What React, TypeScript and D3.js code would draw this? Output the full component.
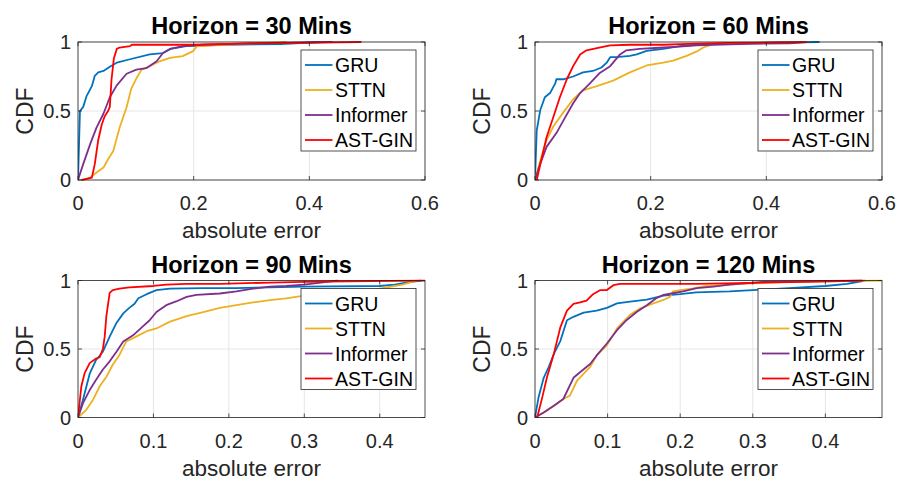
import React, { useEffect, useRef } from 'react';
import * as d3 from 'd3';

type Pt = [number, number];

const seriesNames = ['GRU', 'STTN', 'Informer', 'AST-GIN'];
const seriesColors = ['#0072BD', '#EDB120', '#7E2F8E', '#FF0000'];
const horizons = [30, 60, 90, 120];
const xMaxes = [0.6, 0.6, 0.46, 0.478];
const xTicksWide = [0, 0.2, 0.4, 0.6];
const xTicksNarrow = [0, 0.1, 0.2, 0.3, 0.4];
const yTicks = [0, 0.5, 1];

// Horizon = 30
const gru30: Pt[] = [[0, 0], [0.0034, 0.5], [0.009, 0.53], [0.015, 0.61], [0.024, 0.68], [0.029, 0.755], [0.035, 0.78], [0.044, 0.79], [0.055, 0.82], [0.067, 0.85], [0.09, 0.875], [0.124, 0.91], [0.147, 0.92], [0.16, 0.95], [0.187, 0.97], [0.25, 0.98], [0.35, 0.985], [0.42, 1]];
const sttn30: Pt[] = [[0.009, 0], [0.021, 0.017], [0.032, 0.054], [0.044, 0.09], [0.052, 0.15], [0.061, 0.21], [0.072, 0.38], [0.084, 0.527], [0.092, 0.66], [0.101, 0.737], [0.11, 0.8], [0.124, 0.824], [0.141, 0.86], [0.159, 0.885], [0.181, 0.898], [0.199, 0.934], [0.205, 0.968], [0.25, 0.98], [0.3, 0.99], [0.36, 1]];
const informer30: Pt[] = [[0, 0], [0.009, 0.115], [0.021, 0.26], [0.032, 0.38], [0.044, 0.48], [0.055, 0.6], [0.067, 0.686], [0.084, 0.77], [0.101, 0.8], [0.118, 0.81], [0.136, 0.86], [0.147, 0.92], [0.159, 0.95], [0.182, 0.97], [0.216, 0.98], [0.3, 0.99], [0.44, 1]];
const astgin30: Pt[] = [[0.006, 0], [0.024, 0.017], [0.029, 0.115], [0.035, 0.29], [0.041, 0.4], [0.046, 0.46], [0.052, 0.5], [0.055, 0.53], [0.058, 0.73], [0.062, 0.88], [0.067, 0.95], [0.072, 0.96], [0.09, 0.97], [0.093, 0.98], [0.2, 0.98], [0.3, 0.99], [0.49, 1]];

// Horizon = 60
const gru60: Pt[] = [[0, 0], [0.003, 0.36], [0.009, 0.505], [0.017, 0.6], [0.026, 0.63], [0.035, 0.7], [0.037, 0.73], [0.049, 0.73], [0.066, 0.75], [0.083, 0.78], [0.1, 0.79], [0.115, 0.815], [0.124, 0.85], [0.13, 0.89], [0.141, 0.89], [0.164, 0.9], [0.176, 0.91], [0.193, 0.935], [0.222, 0.95], [0.25, 0.97], [0.279, 0.98], [0.337, 0.99], [0.492, 1]];
const sttn60: Pt[] = [[0, 0], [0.009, 0.14], [0.02, 0.29], [0.032, 0.39], [0.049, 0.49], [0.066, 0.585], [0.083, 0.65], [0.107, 0.68], [0.135, 0.72], [0.164, 0.78], [0.193, 0.83], [0.222, 0.85], [0.239, 0.865], [0.262, 0.9], [0.279, 0.93], [0.291, 0.96], [0.308, 0.985], [0.337, 0.99], [0.4, 0.995], [0.46, 1]];
const informer60: Pt[] = [[0, 0], [0.009, 0.117], [0.02, 0.24], [0.037, 0.34], [0.049, 0.43], [0.066, 0.556], [0.078, 0.63], [0.095, 0.7], [0.112, 0.776], [0.13, 0.825], [0.147, 0.91], [0.158, 0.94], [0.181, 0.95], [0.222, 0.96], [0.25, 0.966], [0.279, 0.976], [0.337, 0.983], [0.394, 0.988], [0.44, 0.99], [0.47, 1]];
const astgin60: Pt[] = [[0.003, 0], [0.012, 0.166], [0.02, 0.31], [0.032, 0.46], [0.043, 0.6], [0.055, 0.73], [0.066, 0.825], [0.078, 0.91], [0.089, 0.94], [0.107, 0.956], [0.13, 0.976], [0.164, 0.98], [0.222, 0.98], [0.279, 0.988], [0.337, 0.993], [0.47, 1]];

// Horizon = 90
const gru90: Pt[] = [[0, 0], [0.0066, 0.13], [0.0155, 0.32], [0.024, 0.42], [0.033, 0.48], [0.042, 0.59], [0.051, 0.69], [0.06, 0.76], [0.068, 0.8], [0.075, 0.83], [0.08, 0.87], [0.091, 0.9], [0.104, 0.93], [0.122, 0.94], [0.166, 0.945], [0.21, 0.945], [0.254, 0.95], [0.3, 0.955], [0.4, 0.96], [0.42, 0.97], [0.435, 0.985], [0.455, 1]];
const sttn90: Pt[] = [[0, 0], [0.011, 0.056], [0.02, 0.13], [0.029, 0.23], [0.038, 0.3], [0.046, 0.385], [0.055, 0.457], [0.064, 0.555], [0.077, 0.59], [0.091, 0.63], [0.104, 0.65], [0.122, 0.7], [0.144, 0.74], [0.166, 0.77], [0.188, 0.8], [0.21, 0.82], [0.232, 0.84], [0.254, 0.856], [0.276, 0.87], [0.3, 0.89], [0.35, 0.91], [0.4, 0.94], [0.43, 0.97], [0.45, 1]];
const informer90: Pt[] = [[0, 0], [0.0066, 0.105], [0.0155, 0.2], [0.024, 0.275], [0.033, 0.35], [0.042, 0.41], [0.051, 0.48], [0.06, 0.555], [0.073, 0.6], [0.086, 0.665], [0.095, 0.71], [0.104, 0.77], [0.117, 0.82], [0.13, 0.847], [0.144, 0.88], [0.157, 0.895], [0.188, 0.905], [0.21, 0.92], [0.232, 0.94], [0.254, 0.955], [0.276, 0.96], [0.3, 0.97], [0.33, 0.99], [0.345, 1]];
const astgin90: Pt[] = [[0, 0], [0.0044, 0.226], [0.0088, 0.324], [0.0155, 0.397], [0.024, 0.43], [0.0287, 0.44], [0.033, 0.5], [0.0354, 0.59], [0.0376, 0.74], [0.042, 0.91], [0.046, 0.93], [0.055, 0.94], [0.068, 0.95], [0.1, 0.96], [0.117, 0.97], [0.144, 0.975], [0.188, 0.975], [0.254, 0.985], [0.3, 0.99], [0.387, 0.995], [0.46, 1]];

// Horizon = 120
const gru120: Pt[] = [[0, 0], [0.005, 0.15], [0.012, 0.29], [0.019, 0.37], [0.026, 0.465], [0.035, 0.56], [0.044, 0.71], [0.053, 0.735], [0.067, 0.765], [0.085, 0.78], [0.099, 0.8], [0.113, 0.833], [0.131, 0.846], [0.154, 0.86], [0.177, 0.89], [0.2, 0.9], [0.222, 0.914], [0.268, 0.92], [0.3, 0.93], [0.35, 0.945], [0.4, 0.96], [0.43, 0.975], [0.455, 1]];
const sttn120: Pt[] = [[0, 0], [0.012, 0.037], [0.026, 0.086], [0.039, 0.135], [0.048, 0.16], [0.058, 0.27], [0.076, 0.37], [0.085, 0.453], [0.099, 0.527], [0.113, 0.65], [0.131, 0.75], [0.145, 0.797], [0.163, 0.833], [0.177, 0.858], [0.186, 0.88], [0.19, 0.92], [0.2, 0.93], [0.216, 0.94], [0.236, 0.96], [0.268, 0.97], [0.3, 0.98], [0.35, 0.99], [0.42, 0.995], [0.48, 1]];
const informer120: Pt[] = [[0, 0], [0.012, 0.037], [0.026, 0.086], [0.039, 0.135], [0.053, 0.29], [0.062, 0.33], [0.076, 0.39], [0.085, 0.453], [0.099, 0.54], [0.113, 0.637], [0.126, 0.71], [0.14, 0.77], [0.154, 0.82], [0.167, 0.87], [0.177, 0.895], [0.19, 0.907], [0.204, 0.92], [0.223, 0.944], [0.246, 0.956], [0.268, 0.97], [0.314, 0.99], [0.45, 1]];
const astgin120: Pt[] = [[0.003, 0], [0.01, 0.147], [0.0165, 0.294], [0.026, 0.466], [0.035, 0.66], [0.044, 0.78], [0.053, 0.83], [0.062, 0.84], [0.071, 0.853], [0.08, 0.9], [0.09, 0.93], [0.099, 0.93], [0.108, 0.966], [0.117, 0.975], [0.131, 0.975], [0.223, 0.975], [0.314, 0.985], [0.406, 0.993], [0.452, 1]];

const panelSeries: Pt[][][] = [
  [gru30, sttn30, informer30, astgin30],
  [gru60, sttn60, informer60, astgin60],
  [gru90, sttn90, informer90, astgin90],
  [gru120, sttn120, informer120, astgin120],
];

const W = 899;
const H = 479;
const FONT = '"Liberation Sans", Arial, Helvetica, sans-serif';
const AXIS_COLOR = '#262626';

export default function App() {
  const svgRef = useRef<SVGSVGElement>(null);

  useEffect(() => {
    const svg = d3.select(svgRef.current);
    svg.selectAll('*').remove();

    // plot area boxes [left, top, right, bottom]
    const boxes = [
      [78, 42, 425, 180],
      [535, 42, 882, 180],
      [78, 280.5, 425, 417.5],
      [535, 280.5, 882, 417.5],
    ];

    boxes.forEach((b, i) => {
      const [x0, y0, x1, y1] = b;
      const x = d3.scaleLinear().domain([0, xMaxes[i]]).range([x0, x1]);
      const y = d3.scaleLinear().domain([0, 1]).range([y1, y0]);
      const xTicks = i < 2 ? xTicksWide : xTicksNarrow;
      const g = svg.append('g');

      g.append('rect')
        .attr('x', x0).attr('y', y0)
        .attr('width', x1 - x0).attr('height', y1 - y0)
        .attr('fill', '#fff');

      // grid
      xTicks.forEach(t => {
        g.append('line')
          .attr('x1', x(t)).attr('x2', x(t))
          .attr('y1', y0).attr('y2', y1)
          .attr('stroke', '#e6e6e6').attr('stroke-width', 1);
      });
      yTicks.forEach(t => {
        g.append('line')
          .attr('x1', x0).attr('x2', x1)
          .attr('y1', y(t)).attr('y2', y(t))
          .attr('stroke', '#e6e6e6').attr('stroke-width', 1);
      });

      // curves
      const line = d3.line<Pt>().x(d => x(d[0])).y(d => y(d[1]));
      const clipId = `clip${i}`;
      g.append('clipPath').attr('id', clipId)
        .append('rect')
        .attr('x', x0).attr('y', y0 - 1)
        .attr('width', x1 - x0).attr('height', y1 - y0 + 2);
      panelSeries[i].forEach((s, k) => {
        g.append('path')
          .attr('d', line(s))
          .attr('fill', 'none')
          .attr('stroke', seriesColors[k])
          .attr('stroke-width', 1.8)
          .attr('stroke-linejoin', 'round')
          .attr('clip-path', `url(#${clipId})`);
      });

      // box
      g.append('rect')
        .attr('x', x0).attr('y', y0)
        .attr('width', x1 - x0).attr('height', y1 - y0)
        .attr('fill', 'none')
        .attr('stroke', AXIS_COLOR).attr('stroke-width', 0.8);

      // ticks, inward on all sides
      const tl = 4;
      xTicks.forEach(t => {
        g.append('line').attr('x1', x(t)).attr('x2', x(t)).attr('y1', y1).attr('y2', y1 - tl)
          .attr('stroke', AXIS_COLOR).attr('stroke-width', 0.8);
        g.append('line').attr('x1', x(t)).attr('x2', x(t)).attr('y1', y0).attr('y2', y0 + tl)
          .attr('stroke', AXIS_COLOR).attr('stroke-width', 0.8);
        g.append('text')
          .attr('x', x(t)).attr('y', y1 + 30)
          .attr('text-anchor', 'middle')
          .attr('font-family', FONT).attr('font-size', 20)
          .attr('fill', AXIS_COLOR)
          .text(String(t));
      });
      yTicks.forEach(t => {
        g.append('line').attr('x1', x0).attr('x2', x0 + tl).attr('y1', y(t)).attr('y2', y(t))
          .attr('stroke', AXIS_COLOR).attr('stroke-width', 0.8);
        g.append('line').attr('x1', x1).attr('x2', x1 - tl).attr('y1', y(t)).attr('y2', y(t))
          .attr('stroke', AXIS_COLOR).attr('stroke-width', 0.8);
        g.append('text')
          .attr('x', x0 - 7).attr('y', y(t) + 7)
          .attr('text-anchor', 'end')
          .attr('font-family', FONT).attr('font-size', 20)
          .attr('fill', AXIS_COLOR)
          .text(String(t));
      });

      const cx = (x0 + x1) / 2;
      // title
      g.append('text')
        .attr('x', cx).attr('y', y0 - 8)
        .attr('text-anchor', 'middle')
        .attr('font-family', FONT).attr('font-size', 23.5).attr('font-weight', 'bold')
        .attr('fill', '#000')
        .text(`Horizon = ${horizons[i]} Mins`);
      // x label
      g.append('text')
        .attr('x', cx).attr('y', y1 + 58)
        .attr('text-anchor', 'middle')
        .attr('font-family', FONT).attr('font-size', 22.5)
        .attr('fill', AXIS_COLOR)
        .text('absolute error');
      // y label
      g.append('text')
        .attr('transform', `translate(${x0 - 45.5},${(y0 + y1) / 2}) rotate(-90)`)
        .attr('text-anchor', 'middle')
        .attr('font-family', FONT).attr('font-size', 23)
        .attr('fill', AXIS_COLOR)
        .text('CDF');

      // legend
      const lx = x1 - 124;
      const ly = y0 + 8;
      const lg = g.append('g');
      lg.append('rect')
        .attr('x', lx).attr('y', ly)
        .attr('width', 115).attr('height', 101)
        .attr('fill', '#fff')
        .attr('stroke', AXIS_COLOR).attr('stroke-width', 0.8);
      seriesNames.forEach((name, k) => {
        const ry = ly + 15 + k * 25;
        lg.append('line')
          .attr('x1', lx + 4).attr('x2', lx + 31.5)
          .attr('y1', ry).attr('y2', ry)
          .attr('stroke', seriesColors[k]).attr('stroke-width', 1.8);
        lg.append('text')
          .attr('x', lx + 34).attr('y', ry + 7)
          .attr('font-family', FONT).attr('font-size', 19.5)
          .attr('fill', '#000')
          .text(name);
      });
    });
  }, []);

  return (
    <svg
      ref={svgRef}
      width={W}
      height={H}
      style={{ position: 'absolute', left: 0, top: 0, background: '#fff' }}
    />
  );
}
